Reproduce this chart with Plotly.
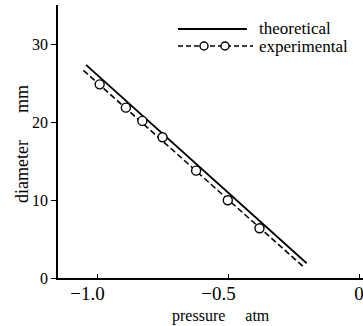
import plotly.graph_objects as go

# Data
exp_pressure = [-0.99, -0.89, -0.827, -0.75, -0.622, -0.501, -0.38]
exp_diameter = [24.9, 21.9, 20.2, 18.1, 13.8, 10.0, 6.4]

exp_line_pressure = [-1.052, -0.213]
exp_line_diameter = [26.7, 1.45]

theo_pressure = [-1.042, -0.20]
theo_diameter = [27.4, 1.9]

x_tickvals = [-1.0, -0.5, 0.0]
# trailing em space keeps the digits centred on the tick, minus sign hanging left
x_ticktext = ["\u22121.0\u2003", "\u22120.5\u2003", "0"]
y_tickvals = [0, 10, 20, 30]
y_ticktext = ["0", "10", "20", "30"]

legend_names = ["theoretical", "experimental"]

FONT = "Liberation Serif, Times New Roman, DejaVu Serif, serif"
W, H = 363, 326
L, R, T, B = 58, 0, 5, 48
PW, PH = W - L - R, H - T - B


def px(xp):
    return (xp - L) / PW


def py(yp):
    return (H - B - yp) / PH


fig = go.Figure()

fig.add_trace(go.Scatter(
    x=theo_pressure, y=theo_diameter, mode="lines",
    line=dict(color="black", width=1.8), showlegend=False,
))
fig.add_trace(go.Scatter(
    x=exp_line_pressure, y=exp_line_diameter, mode="lines",
    line=dict(color="black", width=1.6, dash="6px,3px"), showlegend=False,
))
fig.add_trace(go.Scatter(
    x=exp_pressure, y=exp_diameter, mode="markers",
    marker=dict(symbol="circle", size=9, color="white",
                line=dict(color="black", width=1.4)),
    showlegend=False,
))

shapes = []
# legend: theoretical
shapes.append(dict(type="line", xref="paper", yref="paper",
                   x0=px(178), x1=px(247), y0=py(29), y1=py(29),
                   line=dict(color="black", width=1.8)))
# legend: experimental dashed
shapes.append(dict(type="line", xref="paper", yref="paper",
                   x0=px(178), x1=px(253), y0=py(46), y1=py(46),
                   line=dict(color="black", width=1.6, dash="5px,3px")))
for cx in (204, 225):
    shapes.append(dict(type="circle", xref="paper", yref="paper",
                       x0=px(cx - 4), x1=px(cx + 4),
                       y0=py(46 + 4), y1=py(46 - 4),
                       fillcolor="white", line=dict(color="black", width=1.4)))

annotations = [
    dict(text=legend_names[0], xref="paper", yref="paper", x=px(257), y=py(28),
         xanchor="left", yanchor="middle", showarrow=False,
         font=dict(family=FONT, size=17, color="black")),
    dict(text=legend_names[1], xref="paper", yref="paper", x=px(257), y=py(46),
         xanchor="left", yanchor="middle", showarrow=False,
         font=dict(family=FONT, size=17, color="black")),
    dict(text="diameter" + "\u00a0" * 6 + "mm", xref="paper", yref="paper",
         x=px(22), y=py(144), textangle=-90, xanchor="center", yanchor="middle",
         showarrow=False, font=dict(family=FONT, size=18, color="black")),
    dict(text="pressure" + "\u00a0" * 5 + "atm", xref="paper", yref="paper",
         x=px(221), y=py(316), xanchor="center", yanchor="middle",
         showarrow=False, font=dict(family=FONT, size=16, color="black")),
]

fig.update_layout(
    width=W, height=H,
    margin=dict(l=L, r=R, t=T, b=B, autoexpand=False),
    paper_bgcolor="white", plot_bgcolor="white",
    shapes=shapes, annotations=annotations,
    showlegend=False,
    font=dict(family=FONT, color="black"),
)
fig.update_xaxes(
    range=[-1.149, 0.015], tickvals=x_tickvals, ticktext=x_ticktext,
    automargin=False, ticklabeloverflow="allow",
    showgrid=False, zeroline=False, showline=True, linecolor="black", linewidth=1.5,
    ticks="inside", ticklen=4, tickcolor="black", tickwidth=1,
    ticklabelstandoff=-3,
    tickfont=dict(family=FONT, size=19, color="black"),
)
fig.update_yaxes(
    range=[0, 35.1], tickvals=y_tickvals, ticktext=y_ticktext,
    automargin=False,
    showgrid=False, zeroline=False, showline=True, linecolor="black", linewidth=1.5,
    ticks="outside", ticklen=5, tickcolor="black", tickwidth=1,
    tickfont=dict(family=FONT, size=16, color="black"),
)

fig.write_html(
    "out.html",
    config={"displayModeBar": False},
    post_script="document.body.style.margin='0';document.body.style.overflow='hidden';",
)
